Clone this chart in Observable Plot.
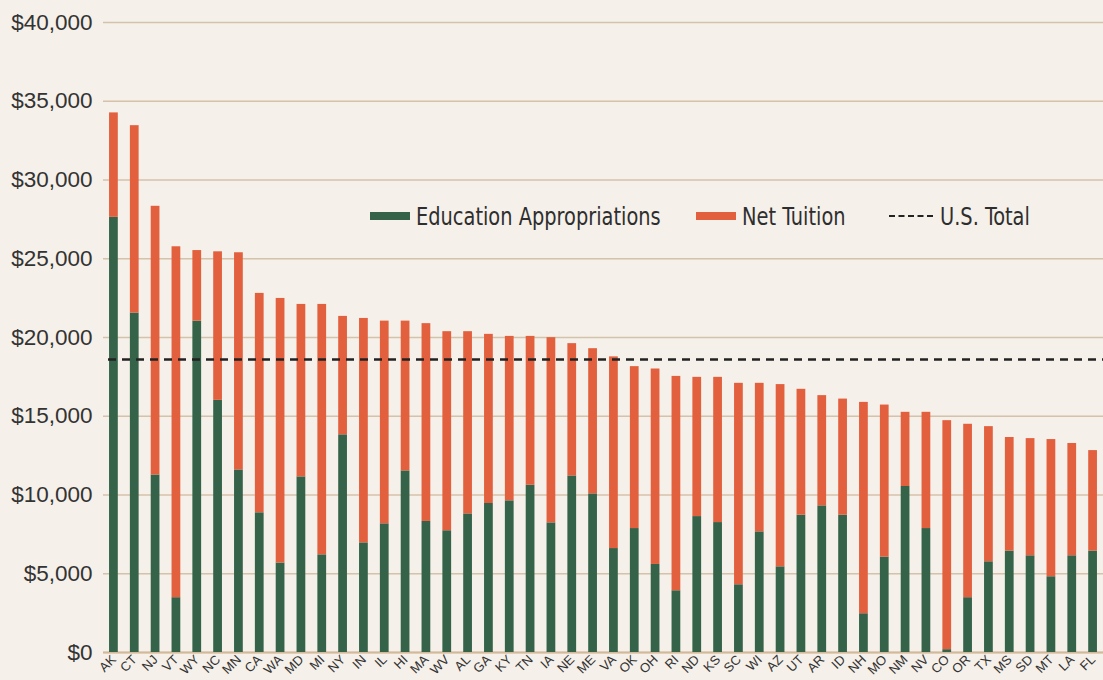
<!DOCTYPE html>
<html>
<head>
<meta charset="utf-8">
<script src="https://cdn.jsdelivr.net/npm/d3@7"></script>
<script src="https://cdn.jsdelivr.net/npm/@observablehq/plot@0.6"></script>
<style>
  html, body { margin: 0; padding: 0; background: #f5f0e9; }
  #wrap { position: relative; width: 1103px; height: 680px; }
  #legend { position: absolute; left: 370px; top: 201px; width: 733px; height: 30px;
    font-family: "Liberation Sans Narrow", "DejaVu Sans Condensed", "DejaVu Sans", sans-serif; font-size: 25.5px; color: #2e2e2e; }
  .item { position: absolute; top: 0; height: 30px; display: flex; align-items: center; white-space: nowrap; }
  .sw { display: inline-block; width: 40px; height: 8px; margin-right: 6px; flex: none; }
  .dash { display: inline-block; width: 44px; height: 0; border-top: 2.5px dashed #222; margin-right: 7px; flex: none; }
  .lbl { display: inline-block; transform: scaleX(0.845); transform-origin: left center; }
  .svgfont text { font-family: "Liberation Sans", sans-serif; }
</style>
</head>
<body>
<div id="wrap">
  <div id="chart"></div>
  <div id="legend"></div>
</div>
<script>
const states = ["AK","CT","NJ","VT","WY","NC","MN","CA","WA","MD","MI","NY","IN","IL","HI","MA","WV","AL","GA","KY","TN","IA","NE","ME","VA","OK","OH","RI","ND","KS","SC","WI","AZ","UT","AR","ID","NH","MO","NM","NV","CO","OR","TX","MS","SD","MT","LA","FL"];
const appropriations = [27630,21550,11270,3480,21040,16010,11590,8870,5680,11150,6200,13820,6960,8170,11530,8320,7730,8800,9460,9630,10620,8230,11210,10070,6600,7870,5590,3920,8630,8250,4300,7660,5440,8720,9310,8720,2460,6060,10540,7870,180,3480,5760,6440,6140,4810,6140,6440];
const tuition = [6630,11900,17060,22280,4480,9430,13790,13930,16800,10950,15900,7520,14250,12870,9510,12560,12640,11570,10740,10440,9450,11760,8400,9220,12170,10280,12410,13610,8840,9220,12790,9430,11570,7990,7000,7370,13420,9650,4710,7380,14540,11010,8580,7210,7440,8710,7130,6380];
const usTotal = [18610];
const yTicks = [0,5000,10000,15000,20000,25000,30000,35000,40000];
const seriesNames = ["Education Appropriations","Net Tuition"];
const seriesColors = ["#35634a","#e2603e"];

const data = [];
states.forEach((s, i) => {
  data.push({state: s, series: seriesNames[0], value: appropriations[i]});
  data.push({state: s, series: seriesNames[1], value: tuition[i]});
});

const chart = Plot.plot({
  width: 1103,
  height: 680,
  marginLeft: 103,
  marginRight: 0,
  marginTop: 22,
  marginBottom: 28,
  style: {background: "#f5f0e9", color: "#333"},
  x: {domain: states, paddingInner: 0.58, paddingOuter: 0.29, label: null},
  y: {domain: [0, 40000], label: null},
  color: {domain: seriesNames, range: seriesColors},
  marks: [
    Plot.gridY(yTicks, {stroke: "#d4c2aa", strokeOpacity: 1, strokeWidth: 1.6}),
    Plot.axisY(yTicks, {tickSize: 0, tickPadding: 11, fontSize: 22.5, tickFormat: d => "$" + d3.format(",")(d), label: null, fill: "#333"}),
    Plot.axisX({tickSize: 0, tickPadding: 5, tickRotate: -45, fontSize: 13, label: null, fill: "#333"}),
    Plot.ruleY([0], {stroke: "#d4b89a", strokeWidth: 2}),
    Plot.barY(data, {x: "state", y: "value", fill: "series", order: seriesNames}),
    Plot.ruleY(usTotal, {stroke: "#222", strokeWidth: 2.5, strokeDasharray: "8,6", dx: 5})
  ]
});
chart.classList.add("svgfont");
document.getElementById("chart").appendChild(chart);

const legend = document.getElementById("legend");
const lefts = [0, 326];
seriesNames.forEach((n, i) => {
  const it = document.createElement("div");
  it.className = "item";
  it.style.left = lefts[i] + "px";
  it.innerHTML = `<span class="sw" style="background:${seriesColors[i]}"></span><span class="lbl">${n}</span>`;
  legend.appendChild(it);
});
const it = document.createElement("div");
it.className = "item";
it.style.left = "519px";
it.innerHTML = `<span class="dash"></span><span class="lbl">U.S. Total</span>`;
legend.appendChild(it);
</script>
</body>
</html>
